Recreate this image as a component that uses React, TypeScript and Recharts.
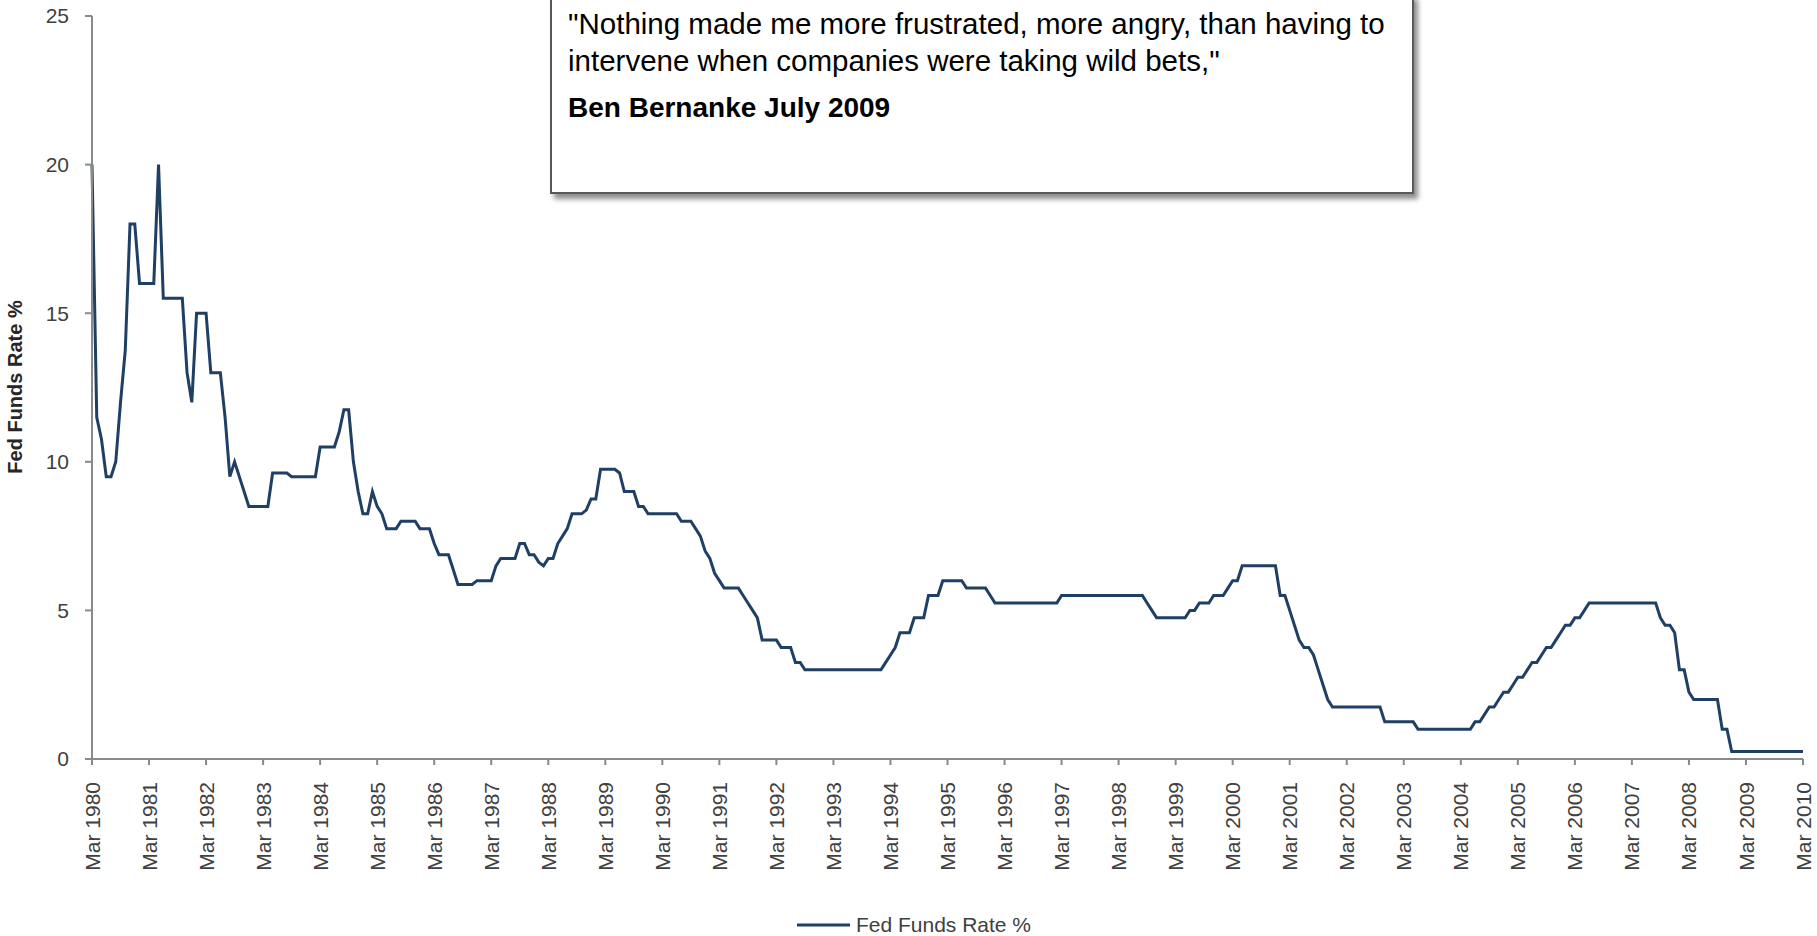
import React from 'react';
import { LineChart, Line, XAxis, YAxis, Legend, Label } from 'recharts';

// monthly Fed funds target, each array runs Mar of that year to Feb of the next
const rates1980 = [20, 11.5, 10.75, 9.5, 9.5, 10, 12, 13.75, 18, 18, 16, 16];
const rates1981 = [16, 16, 20, 15.5, 15.5, 15.5, 15.5, 15.5, 13, 12, 15, 15];
const rates1982 = [15, 13, 13, 13, 11.5, 9.5, 10, 9.5, 9, 8.5, 8.5, 8.5];
const rates1983 = [8.5, 8.5, 9.625, 9.625, 9.625, 9.625, 9.5, 9.5, 9.5, 9.5, 9.5, 9.5];
const rates1984 = [10.5, 10.5, 10.5, 10.5, 11, 11.75, 11.75, 10, 9, 8.25, 8.25, 9];
const rates1985 = [8.5, 8.25, 7.75, 7.75, 7.75, 8, 8, 8, 8, 7.75, 7.75, 7.75];
const rates1986 = [7.25, 6.875, 6.875, 6.875, 6.375, 5.875, 5.875, 5.875, 5.875, 6, 6, 6];
const rates1987 = [6, 6.5, 6.75, 6.75, 6.75, 6.75, 7.25, 7.25, 6.875, 6.875, 6.625, 6.5];
const rates1988 = [6.75, 6.75, 7.25, 7.5, 7.75, 8.25, 8.25, 8.25, 8.375, 8.75, 8.75, 9.75];
const rates1989 = [9.75, 9.75, 9.75, 9.625, 9, 9, 9, 8.5, 8.5, 8.25, 8.25, 8.25];
const rates1990 = [8.25, 8.25, 8.25, 8.25, 8, 8, 8, 7.75, 7.5, 7, 6.75, 6.25];
const rates1991 = [6, 5.75, 5.75, 5.75, 5.75, 5.5, 5.25, 5, 4.75, 4, 4, 4];
const rates1992 = [4, 3.75, 3.75, 3.75, 3.25, 3.25, 3, 3, 3, 3, 3, 3];
const rates1993 = [3, 3, 3, 3, 3, 3, 3, 3, 3, 3, 3, 3.25];
const rates1994 = [3.5, 3.75, 4.25, 4.25, 4.25, 4.75, 4.75, 4.75, 5.5, 5.5, 5.5, 6];
const rates1995 = [6, 6, 6, 6, 5.75, 5.75, 5.75, 5.75, 5.75, 5.5, 5.25, 5.25];
const rates1996 = [5.25, 5.25, 5.25, 5.25, 5.25, 5.25, 5.25, 5.25, 5.25, 5.25, 5.25, 5.25];
const rates1997 = [5.5, 5.5, 5.5, 5.5, 5.5, 5.5, 5.5, 5.5, 5.5, 5.5, 5.5, 5.5];
const rates1998 = [5.5, 5.5, 5.5, 5.5, 5.5, 5.5, 5.25, 5, 4.75, 4.75, 4.75, 4.75];
const rates1999 = [4.75, 4.75, 4.75, 5, 5, 5.25, 5.25, 5.25, 5.5, 5.5, 5.5, 5.75];
const rates2000 = [6, 6, 6.5, 6.5, 6.5, 6.5, 6.5, 6.5, 6.5, 6.5, 5.5, 5.5];
const rates2001 = [5, 4.5, 4, 3.75, 3.75, 3.5, 3, 2.5, 2, 1.75, 1.75, 1.75];
const rates2002 = [1.75, 1.75, 1.75, 1.75, 1.75, 1.75, 1.75, 1.75, 1.25, 1.25, 1.25, 1.25];
const rates2003 = [1.25, 1.25, 1.25, 1, 1, 1, 1, 1, 1, 1, 1, 1];
const rates2004 = [1, 1, 1, 1.25, 1.25, 1.5, 1.75, 1.75, 2, 2.25, 2.25, 2.5];
const rates2005 = [2.75, 2.75, 3, 3.25, 3.25, 3.5, 3.75, 3.75, 4, 4.25, 4.5, 4.5];
const rates2006 = [4.75, 4.75, 5, 5.25, 5.25, 5.25, 5.25, 5.25, 5.25, 5.25, 5.25, 5.25];
const rates2007 = [5.25, 5.25, 5.25, 5.25, 5.25, 5.25, 4.75, 4.5, 4.5, 4.25, 3, 3];
const rates2008 = [2.25, 2, 2, 2, 2, 2, 2, 1, 1, 0.25, 0.25, 0.25];
const rates2009 = [0.25, 0.25, 0.25, 0.25, 0.25, 0.25, 0.25, 0.25, 0.25, 0.25, 0.25, 0.25];
const rates2010 = [0.25];

const years = [
  rates1980, rates1981, rates1982, rates1983, rates1984, rates1985, rates1986, rates1987,
  rates1988, rates1989, rates1990, rates1991, rates1992, rates1993, rates1994, rates1995,
  rates1996, rates1997, rates1998, rates1999, rates2000, rates2001, rates2002, rates2003,
  rates2004, rates2005, rates2006, rates2007, rates2008, rates2009, rates2010,
];
const monthNames = ['Mar', 'Apr', 'May', 'Jun', 'Jul', 'Aug', 'Sep', 'Oct', 'Nov', 'Dec', 'Jan', 'Feb'];
const firstYear = 1980;
const yTicks = [0, 5, 10, 15, 20, 25];

const data: { label: string; rate: number }[] = [];
years.forEach((vals, yi) => {
  vals.forEach((v, mi) => {
    const yr = firstYear + yi + (mi >= 10 ? 1 : 0);
    data.push({ label: `${monthNames[mi]} ${yr}`, rate: v });
  });
});

const LINE = '#1f3f64';
const AXIS = '#898989';
const TEXT = '#404040';
const FONT = '"Liberation Sans", Arial, sans-serif';

const XTick = ({ x, y, payload }: any) => (
  <g transform={`translate(${x},${y})`}>
    <text x={-15} y={0} dy="0.36em" transform="rotate(-90)" textAnchor="end" fill={TEXT} fontSize={21}>
      {payload.value}
    </text>
  </g>
);

const renderLegend = () => (
  <div style={{ display: 'flex', alignItems: 'center', justifyContent: 'center', height: 22, fontSize: 21, color: TEXT, paddingLeft: 25 }}>
    <svg width={53} height={4} style={{ display: 'block' }}>
      <line x1={0} y1={2} x2={53} y2={2} stroke={LINE} strokeWidth={3} />
    </svg>
    <span style={{ marginLeft: 6 }}>Fed Funds Rate %</span>
  </div>
);

const App: React.FC = () => {
  return (
    <div style={{ position: 'absolute', left: 0, top: 0, width: 1817, height: 936, overflow: 'hidden', background: '#fff', fontFamily: FONT }}>
      <LineChart width={1817} height={936} data={data} margin={{ top: 16, right: 14, left: 0, bottom: 0 }} style={{ fontFamily: FONT }}>
        <XAxis
          dataKey="label"
          scale="point"
          interval={11}
          height={155}
          tick={<XTick />}
          tickSize={6}
          axisLine={{ stroke: AXIS, strokeWidth: 2 }}
          tickLine={{ stroke: AXIS, strokeWidth: 2 }}
        />
        <YAxis
          width={92}
          domain={[0, 25]}
          ticks={yTicks}
          tickSize={7}
          tickMargin={16}
          tick={{ fill: TEXT, fontSize: 21 }}
          axisLine={{ stroke: AXIS, strokeWidth: 2 }}
          tickLine={{ stroke: AXIS, strokeWidth: 2 }}
          label={
            <Label
              content={() => (
                <text x={15} y={387} transform="rotate(-90 15 387)" textAnchor="middle" dominantBaseline="central" fontWeight="bold" fontSize={20} fill="#262626">
                  Fed Funds Rate %
                </text>
              )}
            />
          }
        />
        <Legend verticalAlign="bottom" content={renderLegend} />
        <Line type="linear" dataKey="rate" name="Fed Funds Rate %" stroke={LINE} strokeWidth={3} dot={false} isAnimationActive={false} />
      </LineChart>
      <div
        style={{
          position: 'absolute',
          left: 550,
          top: -6,
          width: 864,
          height: 200,
          boxSizing: 'border-box',
          border: '2px solid #595959',
          background: '#fff',
          boxShadow: '4px 5px 5px rgba(0,0,0,0.45)',
          padding: '9px 0 0 16px',
          color: '#000',
          fontSize: 29.5,
          lineHeight: '37px',
        }}
      >
        <div>"Nothing made me more frustrated, more angry, than having to intervene when companies were taking wild bets,"</div>
        <div style={{ fontWeight: 'bold', marginTop: 10, fontSize: 28 }}>Ben Bernanke July 2009</div>
      </div>
    </div>
  );
};

export default App;
